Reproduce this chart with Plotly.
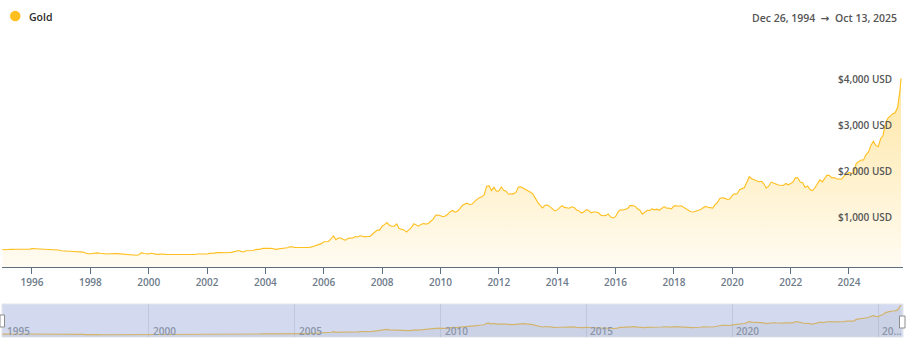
import pandas as pd
import plotly.graph_objects as go

# ---------------- data (monthly gold price, USD/oz) ----------------
first_date = "1994-12-26"
last_date = "2025-10-13"
first_price = 381
last_price = 4110

p1995 = [379, 376, 382, 391, 385, 387, 386, 383, 383, 383, 386, 387]
p1996 = [400, 405, 396, 393, 392, 385, 383, 387, 383, 381, 378, 369]
p1997 = [355, 347, 352, 344, 344, 341, 324, 324, 323, 325, 306, 289]
p1998 = [289, 297, 296, 308, 299, 292, 293, 284, 289, 296, 294, 291]
p1999 = [287, 287, 286, 282, 277, 262, 256, 257, 265, 311, 293, 284]
p2000 = [285, 300, 286, 280, 275, 286, 282, 275, 274, 270, 266, 272]
p2001 = [266, 262, 263, 261, 272, 270, 268, 273, 283, 283, 276, 276]
p2002 = [282, 296, 294, 302, 314, 322, 314, 310, 319, 317, 319, 333]
p2003 = [357, 359, 340, 328, 355, 356, 351, 360, 379, 379, 390, 407]
p2004 = [414, 405, 406, 404, 384, 392, 398, 401, 406, 420, 439, 442]
p2005 = [424, 423, 434, 429, 422, 430, 424, 438, 456, 470, 476, 509]
p2006 = [549, 555, 557, 610, 676, 596, 633, 632, 598, 586, 627, 629]
p2007 = [631, 665, 655, 680, 668, 656, 665, 665, 713, 754, 806, 803]
p2008 = [889, 922, 968, 909, 888, 890, 939, 839, 829, 807, 760, 816]
p2009 = [858, 943, 924, 890, 928, 946, 934, 949, 996, 1043, 1127, 1134]
p2010 = [1118, 1095, 1113, 1148, 1205, 1232, 1193, 1215, 1271, 1342, 1370, 1391]
p2011 = [1356, 1372, 1424, 1473, 1510, 1529, 1572, 1756, 1772, 1665, 1739, 1652]
p2012 = [1656, 1742, 1673, 1650, 1585, 1596, 1594, 1626, 1744, 1747, 1721, 1684]
p2013 = [1671, 1627, 1593, 1487, 1414, 1343, 1286, 1347, 1349, 1316, 1275, 1222]
p2014 = [1244, 1300, 1336, 1299, 1287, 1279, 1311, 1296, 1239, 1222, 1176, 1201]
p2015 = [1250, 1227, 1179, 1198, 1199, 1181, 1128, 1118, 1125, 1157, 1087, 1068]
p2016 = [1097, 1200, 1246, 1242, 1260, 1276, 1337, 1341, 1326, 1267, 1238, 1152]
p2017 = [1192, 1234, 1231, 1266, 1246, 1260, 1236, 1283, 1315, 1280, 1283, 1265]
p2018 = [1331, 1331, 1325, 1335, 1304, 1282, 1238, 1202, 1199, 1215, 1221, 1250]
p2019 = [1291, 1320, 1301, 1286, 1284, 1359, 1413, 1500, 1510, 1495, 1470, 1480]
p2020 = [1560, 1597, 1591, 1683, 1716, 1732, 1846, 1968, 1922, 1900, 1866, 1858]
p2021 = [1867, 1808, 1718, 1760, 1850, 1834, 1807, 1785, 1775, 1777, 1821, 1790]
p2022 = [1817, 1856, 1948, 1937, 1849, 1836, 1733, 1765, 1681, 1664, 1726, 1798]
p2023 = [1898, 1855, 1913, 2000, 1992, 1943, 1951, 1918, 1916, 1917, 1986, 2030]
p2024 = [2060, 2040, 2050, 2260, 2300, 2330, 2330, 2450, 2500, 2650, 2740, 2650]
p2025 = [2620, 2800, 2860, 3130, 3240, 3300, 3340, 3360, 3480, 3860]

monthly_prices = (p1995 + p1996 + p1997 + p1998 + p1999 + p2000 + p2001 + p2002 +
                  p2003 + p2004 + p2005 + p2006 + p2007 + p2008 + p2009 + p2010 +
                  p2011 + p2012 + p2013 + p2014 + p2015 + p2016 + p2017 + p2018 +
                  p2019 + p2020 + p2021 + p2022 + p2023 + p2024 + p2025)
monthly_dates = list(pd.date_range("1995-01-01", periods=len(monthly_prices), freq="MS"))

dates = [pd.Timestamp(first_date)] + monthly_dates + [pd.Timestamp(last_date)]
prices = [first_price] + monthly_prices + [last_price]

y_tick_vals = [1000, 2000, 3000, 4000]
y_tick_text = ["$1,000 USD", "$2,000 USD", "$3,000 USD", "$4,000 USD"]
nav_tick_vals = ["1995-01-01", "2000-01-01", "2005-01-01", "2010-01-01",
                 "2015-01-01", "2020-01-01", "2025-01-01"]
nav_tick_text = ["1995", "2000", "2005", "2010", "2015", "2020", "20…"]

series_name = "Gold"
date_from = "Dec 26, 1994"
date_to = "Oct 13, 2025"

# ---------------- layout helpers ----------------
W, H = 910, 355
def fx(px):
    return px / W
def fy(py):
    return 1 - py / H

GOLD = "#FFBF1F"
FONT = "Open Sans"

fig = go.Figure()

fig.add_trace(go.Scatter(
    x=dates, y=prices, mode="lines", name=series_name,
    line=dict(color=GOLD, width=1.1),
    fill="tozeroy",
    fillgradient=dict(type="vertical",
                      colorscale=[[0, "rgba(255,196,40,0.06)"],
                                  [1, "rgba(255,196,40,0.42)"]],
                      start=0, stop=4100),
    hoverinfo="skip", showlegend=False,
    xaxis="x", yaxis="y",
))

fig.add_trace(go.Scatter(
    x=dates, y=prices, mode="lines",
    line=dict(color="#d2b46e", width=1.2),
    fill="tozeroy", fillcolor="rgba(150,150,150,0.10)",
    hoverinfo="skip", showlegend=False,
    xaxis="x2", yaxis="y2",
))

x_range = ["1994-12-22", "2025-11-07"]

annotations = [
    dict(text=series_name, xref="paper", yref="paper",
         x=fx(26.5), y=fy(16.5), xanchor="left", yanchor="middle",
         showarrow=False, font=dict(family=FONT, size=10.5, color="#2b2b2b", weight=600)),
    dict(text=date_from + '  <span style="font-family:DejaVu Sans">→</span>  ' + date_to,
         xref="paper", yref="paper",
         x=fx(899), y=fy(18), xanchor="right", yanchor="middle",
         showarrow=False, font=dict(family=FONT, size=10.5, color="#555", weight=600)),
]
for v, t in zip(y_tick_vals, y_tick_text):
    annotations.append(dict(
        text=t, xref="paper", yref="y", x=fx(894), y=v, yshift=4.5,
        xanchor="right", yanchor="middle", showarrow=False,
        font=dict(family=FONT, size=10, color="#555", weight=600)))
for v, t in zip(nav_tick_vals, nav_tick_text):
    annotations.append(dict(
        text=t, xref="x2", yref="paper", x=v, y=fy(331), xshift=2,
        xanchor="left", yanchor="middle", showarrow=False,
        font=dict(family=FONT, size=10, color="#8b95a8", weight=600)))

fig.update_layout(
    width=W, height=H,
    margin=dict(l=0, r=0, t=0, b=0),
    paper_bgcolor="white", plot_bgcolor="white",
    font=dict(family=FONT, size=10, color="#555"),
    xaxis=dict(
        domain=[fx(2), fx(903)], range=x_range, type="date",
        showgrid=False, zeroline=False,
        showline=True, linecolor="#5d6e7e", linewidth=1,
        ticks="outside", ticklen=6, tickcolor="#5d6e7e",
        tick0="1996-01-01", dtick="M24", tickformat="%Y",
        tickfont=dict(family=FONT, size=10, color="#6d7b8a", weight=600),
        anchor="y", fixedrange=True,
    ),
    yaxis=dict(
        domain=[fy(267), fy(47)], range=[0, 220 / 45.9 * 1000],
        side="right", showgrid=False, zeroline=False, showline=False,
        showticklabels=False, ticks="",
        anchor="x", fixedrange=True,
    ),
    xaxis2=dict(
        domain=[fx(2), fx(903)], range=x_range, type="date",
        showgrid=True, gridcolor="#bfc8dc", gridwidth=1,
        zeroline=False, showline=False, ticks="",
        tickvals=nav_tick_vals, showticklabels=False,
        anchor="y2", fixedrange=True,
    ),
    yaxis2=dict(
        domain=[fy(337), fy(304)], range=[0, 4240],
        showgrid=False, zeroline=False, showline=False,
        showticklabels=False, ticks="",
        anchor="x2", fixedrange=True,
    ),
    shapes=[
        dict(type="rect", xref="x2 domain", yref="y2 domain",
             x0=0, x1=1, y0=0, y1=1, layer="below",
             fillcolor="#d3daef", line=dict(color="#e2e5ec", width=1)),
        dict(type="rect", xref="paper", yref="paper",
             x0=fx(0), x1=fx(4.5), y0=fy(327), y1=fy(315), layer="above",
             fillcolor="white", line=dict(color="#8d8d8d", width=1)),
        dict(type="rect", xref="paper", yref="paper",
             x0=fx(899.5), x1=fx(905), y0=fy(328), y1=fy(316), layer="above",
             fillcolor="white", line=dict(color="#8d8d8d", width=1)),
        dict(type="circle", xref="paper", yref="paper",
             x0=fx(10), x1=fx(20.5), y0=fy(21.2), y1=fy(10.8),
             fillcolor=GOLD, line=dict(width=0)),
    ],
    annotations=annotations,
)

fig.write_html("out.html")
